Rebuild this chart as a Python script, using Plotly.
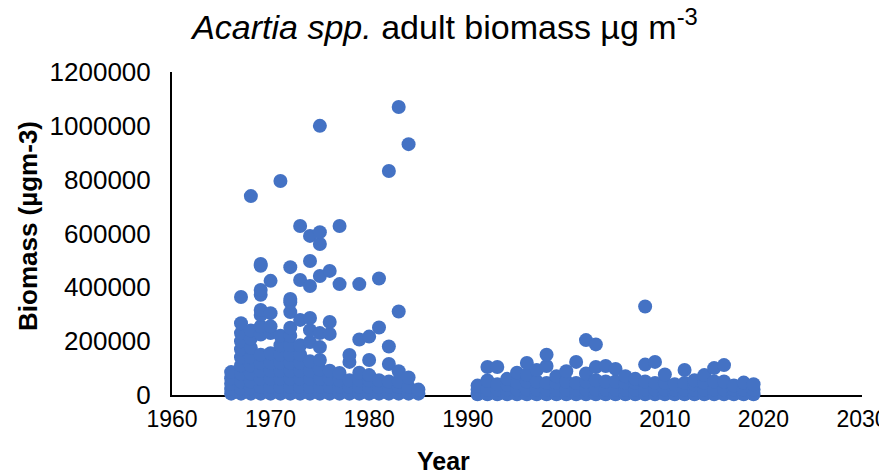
import plotly.graph_objects as go

# ---- data ----
early_years = [1966, 1967, 1968, 1969, 1970, 1971, 1972, 1973, 1974, 1975,
               1976, 1977, 1978, 1979, 1980, 1981, 1982, 1983, 1984, 1985]
early_biomass = [
    [5000, 22000, 42000, 62000, 85000],
    [5000, 25000, 50000, 80000, 110000, 140000, 170000, 200000, 230000, 267000, 364000],
    [5000, 25000, 50000, 80000, 110000, 140000, 175000, 210000, 240000, 739000],
    [5000, 30000, 60000, 90000, 120000, 150000, 225000, 255000, 297000, 316000, 372000, 390000, 480000, 487000],
    [5000, 30000, 60000, 90000, 120000, 155000, 230000, 255000, 304000, 424000],
    [5000, 30000, 60000, 90000, 120000, 150000, 185000, 220000, 795000],
    [5000, 30000, 60000, 90000, 120000, 150000, 185000, 220000, 250000, 308000, 345000, 357000, 475000],
    [5000, 30000, 60000, 90000, 120000, 150000, 185000, 279000, 427000, 628000],
    [5000, 30000, 60000, 90000, 125000, 197000, 241000, 286000, 405000, 498000, 591000],
    [5000, 30000, 60000, 95000, 130000, 178000, 230000, 442000, 561000, 605000, 1000000],
    [5000, 30000, 60000, 90000, 227000, 271000, 461000],
    [5000, 30000, 55000, 82000, 412000, 628000],
    [5000, 30000, 55000, 123000, 149000],
    [5000, 30000, 55000, 83000, 206000, 412000],
    [5000, 30000, 55000, 74000, 130000, 217000],
    [5000, 30000, 55000, 251000, 433000],
    [5000, 30000, 50000, 115000, 180000, 832000],
    [5000, 30000, 50000, 88000, 310000, 1070000],
    [5000, 30000, 65000, 932000],
    [5000, 20000],
]

late_years = [1991, 1992, 1993, 1994, 1995, 1996, 1997, 1998, 1999, 2000,
              2001, 2002, 2003, 2004, 2005, 2006, 2007, 2008, 2009, 2010,
              2011, 2012, 2013, 2014, 2015, 2016, 2017, 2018, 2019]
late_biomass = [
    [3000, 20000, 35000],
    [3000, 20000, 54000, 104000],
    [3000, 20000, 40000, 104000],
    [3000, 20000, 38000, 60000],
    [3000, 20000, 45000, 83000],
    [3000, 20000, 50000, 75000, 119000],
    [3000, 20000, 50000, 93000],
    [3000, 20000, 45000, 108000, 150000],
    [3000, 20000, 45000, 70000],
    [3000, 20000, 50000, 88000],
    [3000, 20000, 45000, 123000],
    [3000, 20000, 50000, 80000, 204000],
    [3000, 20000, 55000, 104000, 188000],
    [3000, 20000, 50000, 108000],
    [3000, 20000, 50000, 97000],
    [3000, 20000, 45000, 70000],
    [3000, 20000, 45000, 60000],
    [3000, 20000, 50000, 113000, 329000],
    [3000, 20000, 45000, 123000],
    [3000, 20000, 45000, 76000],
    [3000, 20000, 40000],
    [3000, 20000, 45000, 93000],
    [3000, 20000, 40000, 55000],
    [3000, 20000, 45000, 74000],
    [3000, 20000, 50000, 100000],
    [3000, 20000, 50000, 111000],
    [3000, 20000, 35000],
    [3000, 20000, 46000],
    [3000, 20000, 40000],
]

x_ticks = [1960, 1970, 1980, 1990, 2000, 2010, 2020, 2030]
y_ticks = [0, 200000, 400000, 600000, 800000, 1000000, 1200000]

# ---- flatten ----
xs, ys = [], []
for yrs, vals in ((early_years, early_biomass), (late_years, late_biomass)):
    for yr, vv in zip(yrs, vals):
        for v in vv:
            xs.append(yr)
            ys.append(v)

FONT = "Liberation Sans, Arial, sans-serif"
BLUE = "#4472C4"

# the page body adds an 8px margin, so the figure is sized to fit the window
W, H = 879, 467

fig = go.Figure()
fig.add_trace(go.Scatter(
    x=xs, y=ys, mode="markers",
    marker=dict(size=14, color=BLUE, line=dict(width=0)),
    cliponaxis=False, showlegend=False, hoverinfo="x+y",
))

fig.update_layout(
    width=W, height=H,
    margin=dict(l=164, r=25, t=64, b=80, autoexpand=False),
    paper_bgcolor="white", plot_bgcolor="white",
    font=dict(family=FONT, color="#000000"),
    title=dict(
        text="<i>Acartia spp.</i> adult biomass µg m<sup>-3</sup>",
        x=437 / W, xref="container", xanchor="center",
        y=1 - 19 / H, yref="container", yanchor="middle",
        font=dict(family=FONT, size=34, color="#000000"),
    ),
    xaxis=dict(
        range=[1960, 2030], tickvals=x_ticks, ticktext=[str(t) for t in x_ticks],
        showgrid=False, zeroline=False, showline=True, linecolor="#000000",
        linewidth=2, ticks="", ticklabelstandoff=2, automargin=False,
        ticklabeloverflow="allow",
        tickfont=dict(family=FONT, size=23, color="#000000"),
        layer="below traces",
    ),
    yaxis=dict(
        range=[0, 1200000], tickvals=y_ticks, ticktext=[str(t) for t in y_ticks],
        showgrid=False, zeroline=False, showline=True, linecolor="#000000",
        linewidth=2, ticks="", ticklabelstandoff=14, automargin=False,
        ticklabeloverflow="allow",
        tickfont=dict(family=FONT, size=26, color="#000000"),
        layer="below traces",
    ),
    annotations=[
        dict(text="<b>Biomass (µgm-3)</b>", textangle=-90,
             x=(28 - 172) / 690, y=(395 - 226) / 323, xref="paper", yref="paper",
             xanchor="center", yanchor="middle", showarrow=False,
             font=dict(family=FONT, size=26, color="#000000")),
        dict(text="<b>Year</b>",
             x=(443 - 172) / 690, y=(395 - 461) / 323, xref="paper", yref="paper",
             xanchor="center", yanchor="middle", showarrow=False,
             font=dict(family=FONT, size=25, color="#000000")),
    ],
)

fig.write_html("out.html")
